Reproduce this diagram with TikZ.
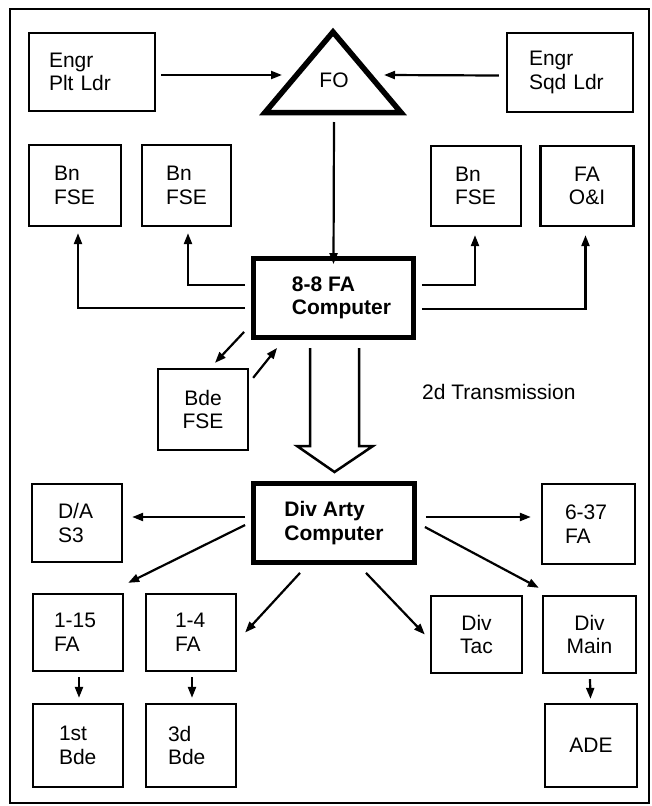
\documentclass[tikz,border=0pt]{standalone}
\usepackage{fontspec}
\setmainfont{Liberation Sans}
\usetikzlibrary{arrows.meta}
\begin{document}
\begin{tikzpicture}[x=1pt,y=-1pt,
  tx/.style={font=\fontsize{21}{23.5}\selectfont},
  bx/.style={draw, line width=2.3pt, inner sep=0pt, tx},
  heavybox/.style={draw, line width=4.8pt, inner sep=0pt, font=\fontsize{21}{23.5}\selectfont\bfseries},
  arr/.style={line width=2.2pt, -{Triangle[length=11pt,width=8pt]}},
  hollow/.style={line width=2.5pt, line join=miter},
  tri/.style={line width=5.5pt, line join=miter},
]
\useasboundingbox (0,0) rectangle (652,806);
\fill[white] (0,0) rectangle (652,806);
% frame
\draw[line width=2.3pt] (10,9) rectangle (649,803);

% top row
\node[bx, minimum width=126pt, minimum height=78pt, text width=86pt, align=left] (plt) at (92,72) {Engr\\Plt Ldr};
\node[bx, minimum width=126pt, minimum height=79pt, text width=82pt, align=left] (sqd) at (570,72.5) {Engr\\Sqd Ldr};

% FO triangle
\draw[tri] (333,32) -- (401,112.5) -- (265,112.5) -- cycle;
\node[tx, inner sep=0pt] (fo) at (334,80) {FO};
\coordinate (foL) at (282,75);
\coordinate (foR) at (384,75);
\coordinate (foB) at (334,122);

% second row
\node[bx, minimum width=92pt, minimum height=81pt, text width=42pt, align=left] (bn1) at (75,185.5) {Bn\\FSE};
\node[bx, minimum width=89pt, minimum height=81pt, text width=41pt, align=left] (bn2) at (186.5,185.5) {Bn\\FSE};
\node[bx, minimum width=90pt, minimum height=80pt, text width=42pt, align=left] (bn3) at (476,186) {Bn\\FSE};
\node[bx, minimum width=93pt, minimum height=80pt, align=center] (fao) at (587,186) {FA\\O\&I};

% 8-8 FA computer
\node[heavybox, minimum width=160pt, minimum height=79pt, align=left] (comp) at (333.5,298) {\hspace*{16pt}8-8 FA\\\hspace*{16pt}Computer};

% Bde FSE
\node[bx, minimum width=90pt, minimum height=81pt, align=center] (bde) at (203,409.5) {Bde\\FSE};

% 2d Transmission
\node[tx, inner sep=0pt, anchor=west] (trans) at (422,392) {2d Transmission};

% Div Arty computer
\node[heavybox, minimum width=161pt, minimum height=79pt, align=left] (arty) at (334,523) {Div Arty\\Computer};

% row beside Div Arty
\node[bx, minimum width=90pt, minimum height=78pt, text width=38pt, align=left] (da) at (77,523) {D/A\\S3};
\node[bx, minimum width=93pt, minimum height=80pt, text width=47pt, align=left] (fa637) at (588.5,524) {6-37\\FA};

% lower rows
\node[bx, minimum width=90pt, minimum height=77pt, text width=48pt, align=left] (fa115) at (78,632.5) {1-15\\FA};
\node[bx, minimum width=90pt, minimum height=77pt, text width=32pt, align=left] (fa14) at (191,632.5) {1-4\\FA};
\node[bx, minimum width=91pt, minimum height=77pt, align=center] (divtac) at (476.5,634.5) {Div\\Tac};
\node[bx, minimum width=93pt, minimum height=77pt, align=center] (divmain) at (589.5,634.5) {Div\\Main};

\node[bx, minimum width=90pt, minimum height=83pt, text width=38pt, align=left] (bde1) at (78,745.5) {1st\\Bde};
\node[bx, minimum width=90pt, minimum height=83pt, text width=46pt, align=left] (bde3) at (191,745.5) {3d\\Bde};
\node[bx, minimum width=92pt, minimum height=83pt, align=center] (ade) at (591,745.5) {ADE};

% connectors top
\draw[arr] ([shift={(5,3)}]plt.east) -- (foL);
\draw[arr] ([shift={(-7,3)}]sqd.west) -- (foR);
\draw[arr] (foB) -- ([yshift=-8]comp.north);

% computer to FSEs
\draw[arr] ([shift={(-6,10)}]comp.west) -| ([shift={(3,6)}]bn1.south);
\draw[arr] ([shift={(-6,-13)}]comp.west) -| ([shift={(1.5,6)}]bn2.south);
\draw[arr] ([shift={(6,-13)}]comp.east) -| ([shift={(-1,8)}]bn3.south);
\draw[arr] ([shift={(6,11)}]comp.east) -| ([shift={(-1.5,8)}]fao.south);

% computer <-> Bde FSE
\draw[arr] ([shift={(-7,-8)}]comp.south west) -- ([shift={(12,-5)}]bde.north);
\draw[arr] ([shift={(4,10)}]bde.north east) -- ([shift={(26,8)}]comp.south west);

% 2d transmission hollow arrow
\draw[hollow] (310,348) -- (310,446) -- (297,446) -- (334.5,472) -- (373,446) -- (359,446) -- (359,348);

% Div Arty connectors
\draw[arr] ([shift={(-6,-6)}]arty.west) -- ([shift={(9,-6)}]da.east);
\draw[arr] ([shift={(9,-6)}]arty.east) -- ([shift={(-10,-7)}]fa637.west);
\draw[arr] ([shift={(-6,2)}]arty.west) -- ([shift={(4,-10)}]fa115.north east);
\draw[arr] ([shift={(-34,8)}]arty.south) -- ([xshift=8]fa14.east);
\draw[arr] ([shift={(32,8)}]arty.south) -- ([xshift=-5]divtac.west);
\draw[arr] ([shift={(8,4)}]arty.east) -- ([shift={(-3,-7)}]divmain.north west);

% down arrows
\draw[arr] ([shift={(1,5)}]fa115.south) -- ([shift={(1,-5)}]bde1.north);
\draw[arr] ([shift={(1,5)}]fa14.south) -- ([shift={(1,-5)}]bde3.north);
\draw[arr] ([shift={(0.5,5)}]divmain.south) -- ([shift={(-0.5,-4)}]ade.north);
\end{tikzpicture}
\end{document}
